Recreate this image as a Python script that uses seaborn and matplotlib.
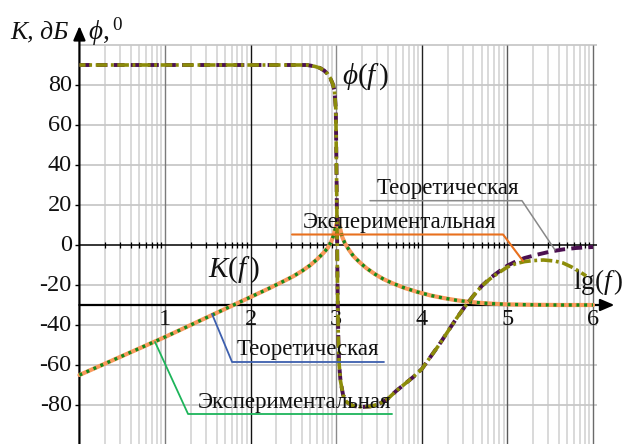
import matplotlib
matplotlib.use("Agg")
import matplotlib.pyplot as plt
import numpy as np
import pandas as pd
import seaborn as sns

sns.set_theme(style="white")
plt.rcParams["font.family"] = ["Liberation Serif", "DejaVu Serif"]
plt.rcParams["mathtext.fontset"] = "custom"
plt.rcParams["mathtext.rm"] = "Liberation Serif"
plt.rcParams["mathtext.it"] = "Liberation Serif:italic"

# Amplitude response K(f), dB, against lg(f)
lg_k = [0, 0.5, 1, 1.5, 2, 2.2, 2.4, 2.5, 2.6, 2.7, 2.78, 2.85, 2.9, 2.94,
        2.97, 3.0, 3.02, 3.04, 3.07, 3.1, 3.15, 3.2, 3.27, 3.35, 3.45, 3.55,
        3.65, 3.8, 3.95, 4.1, 4.25, 4.4, 4.55, 4.7, 4.85, 5.0, 5.3, 5.6, 6.0]
k_theor = [-65, -55.5, -46, -36, -26, -22, -17.8, -15.6, -13, -10, -7, -4,
           -1.5, 1.5, 5, 10, 13, 9, 4, 1, -2.5, -5.5, -8.5, -11.5, -14.5, -17,
           -19, -21.5, -23.5, -25.2, -26.5, -27.6, -28.4, -29, -29.4, -29.7,
           -29.9, -30, -30]
k_exper = [-65, -55.5, -46, -36, -26, -22, -17.8, -15.6, -13, -10, -7, -4,
           -1.5, 1.5, 5, 10, 12, 9, 4, 1, -2.5, -5.5, -8.5, -11.5, -14.5, -17,
           -19, -21.5, -23.5, -25.2, -26.5, -27.6, -28.4, -29, -29.4, -29.7,
           -29.9, -30, -30]

# Phase response phi(f), degrees
lg_phi_t = [0, 1, 2, 2.5, 2.66, 2.75, 2.81, 2.86, 2.9, 2.93, 2.96, 2.98,
            2.995, 3.005, 3.015, 3.025, 3.035, 3.05, 3.08, 3.12, 3.2, 3.3,
            3.4, 3.5, 3.6, 3.7, 3.8, 3.9, 4.0, 4.1, 4.2, 4.3, 4.4, 4.5, 4.6,
            4.7, 4.8, 4.9, 5.0, 5.1, 5.2, 5.35, 5.5, 5.65, 5.8, 6.0]
phi_theor = [90, 90, 90, 90, 90, 89.3, 88.5, 87.2, 85.5, 83.5, 80.5, 77, 68,
             30, -20, -48, -60, -68, -75, -78.5, -80.5, -81, -80.7, -79.5,
             -77, -73, -69.5, -66, -62, -56, -50, -43.5, -37, -31, -25.5,
             -20.5, -16.5, -13.3, -10.3, -8.2, -6.5, -4.8, -3.3, -2.2, -1.5,
             -1]
lg_phi_e = [0, 1, 2, 2.5, 2.66, 2.75, 2.81, 2.86, 2.9, 2.93, 2.96, 2.98,
            2.995, 3.005, 3.015, 3.025, 3.035, 3.05, 3.08, 3.12, 3.2, 3.3,
            3.4, 3.5, 3.6, 3.7, 3.8, 3.9, 4.0, 4.1, 4.2, 4.3, 4.4, 4.5, 4.6,
            4.7, 4.8, 4.9, 5.0, 5.1, 5.2, 5.3, 5.42, 5.55, 5.65, 5.75, 5.85,
            5.92]
phi_exper = [90, 90, 90, 90, 90, 89.3, 88.5, 87.2, 85.5, 83.5, 80.5, 77, 68,
             30, -20, -48, -60, -68, -75, -78.5, -80.5, -81, -80.7, -79.5,
             -77, -73, -69.5, -66, -62, -56, -50, -43.5, -37, -31, -25.5,
             -20.5, -16.8, -13.8, -11, -9.3, -8.3, -7.8, -7.5, -8, -9, -11,
             -13.5, -15.5]

y_ticks = [80, 60, 40, 20, 0, -20, -40, -60, -80]
y_labels = ["80", "60", "40", "20", "0", "-20", "-40", "-60", "-80"]
x_ticks = [1, 2, 3, 4, 5, 6]
x_labels = ["1", "2", "3", "4", "5", "6"]

fig = plt.figure(figsize=(6.27, 4.44), dpi=100)
ax = fig.add_axes([0, 0, 1, 1])
ax.set_xlim(-0.928, 6.397)
ax.set_ylim(-99.5, 122.5)
ax.axis("off")

X_END = 6.05
Y_TOP = 100
Y_BOT = -99.5

# logarithmic grid
minor = [d + np.log10(m) for d in range(6) for m in range(2, 10)]
ax.vlines(minor, Y_BOT, Y_TOP, color="#d0d0d0", lw=1.1, zorder=1)
decade_colors = ["#7a7a7a", "#111111", "#8a8a8a", "#222222", "#5a5a5a", "#6a6a6a"]
for d, c in zip(x_ticks, decade_colors):
    ax.vlines(d, Y_BOT, Y_TOP, color=c, lw=1.0, zorder=1.2)
ax.hlines([100, 80, 60, 40, 20, -20, -40, -60, -80], 0, X_END,
          color="#c8c8c8", lw=1.3, zorder=1.1)

# zero line with logarithmic ticks
ax.hlines(0, 0, X_END, color="black", lw=1.1, zorder=2)
ax.vlines(minor, -1.6, 1.6, color="black", lw=0.9, zorder=2)

# axes with arrows
ax.annotate("", xy=(0, 109.5), xytext=(0, Y_BOT),
            arrowprops=dict(arrowstyle="-|>,head_length=0.7,head_width=0.3",
                            color="black", lw=1.6, shrinkA=0, shrinkB=0),
            zorder=2.5)
ax.annotate("", xy=(6.25, -30), xytext=(0, -30),
            arrowprops=dict(arrowstyle="-|>,head_length=0.7,head_width=0.3",
                            color="black", lw=1.6, shrinkA=0, shrinkB=0),
            zorder=2.5)
ax.hlines(y_ticks, -0.05, 0, color="black", lw=1.0, zorder=2)

# tick labels
for v, s in zip(y_ticks, y_labels):
    ax.text(-0.09, v, s, ha="right", va="center", fontsize=17.5, color="#111111")
for v, s in zip(x_ticks, x_labels):
    ax.text(v, -37, s, ha="center", va="center", fontsize=17.5, color="#111111")

# curves
sns.lineplot(x=lg_k, y=k_theor, ax=ax, color="#f9995c", lw=3.0, sort=False,
             estimator=None, zorder=3)
sns.lineplot(x=lg_k, y=k_exper, ax=ax, color="#138a1a", lw=2.4, sort=False,
             estimator=None, linestyle=(0, (0.9, 1.4)), zorder=3.2)
sns.lineplot(x=lg_phi_t, y=phi_theor, ax=ax, color="#4b1050", lw=2.8,
             sort=False, estimator=None, linestyle=(0, (2.8, 1.6)), zorder=3.4)
sns.lineplot(x=lg_phi_e, y=phi_exper, ax=ax, color="#8c8c0a", lw=2.6,
             sort=False, estimator=None, linestyle=(1.5, (3.2, 1.0, 0.8, 1.0)),
             zorder=3.5)

# leader lines of the captions
ax.plot([3.394, 5.170, 5.556], [22.15, 22.15, -2.5], color="#888888", lw=1.1, zorder=4)
ax.plot([2.484, 4.949, 5.182], [5.25, 5.25, -8.0], color="#e8701e", lw=1.5, zorder=4)
ax.plot([1.549, 1.783, 3.558], [-34.5, -58.5, -58.5], color="#3d5fae", lw=1.3, zorder=4)
ax.plot([0.883, 1.269, 3.652], [-48.5, -84.5, -84.5], color="#1db45a", lw=1.3, zorder=4)

cap = dict(ha="left", va="baseline", fontsize=16.5, color="#111111", zorder=5)
ax.text(3.467, 25.5, "Теоретическая", **cap)
ax.text(2.61, 8.3, "Экепериментальная", **cap)
ax.text(1.84, -55, "Теоретическая", **cap)
ax.text(1.385, -81.5, "Экспериментальная", **cap)

# curve and axis names
ax.text(3.07, 84, r"$\phi(f\,)$", ha="left", va="center", fontsize=21, color="#111111")
ax.text(1.50, -12.5, r"$K(f\,)$", ha="left", va="center", fontsize=21, color="#111111")
ax.text(5.77, -18.5, r"$\mathrm{lg}(f\,)$", ha="left", va="center", fontsize=19.5, color="#111111")
ax.text(-0.811, 106.5, "K, дБ", ha="left", va="center", fontsize=18.5,
        style="italic", color="#111111")
ax.text(0.10, 106.5, r"$\phi,^{0}$", ha="left", va="center", fontsize=19.5, color="#111111")

fig.savefig("out.png", dpi=100)
